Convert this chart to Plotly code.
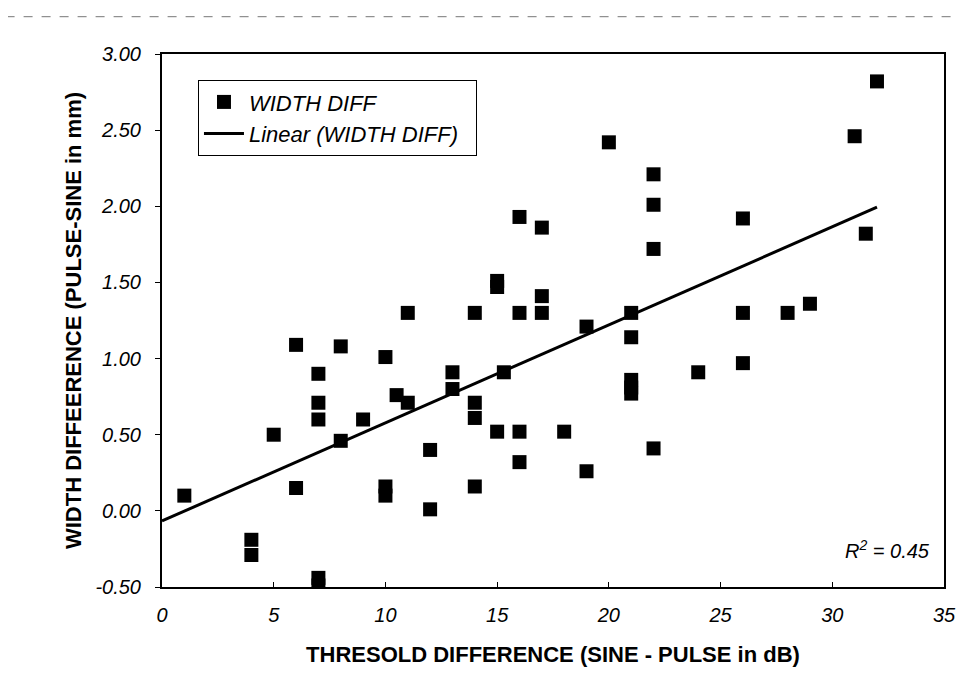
import numpy as np
import plotly.graph_objects as go

# Data
thr_diff = [1, 4, 4, 5, 6, 6, 7, 7, 7, 7, 7, 8, 8, 9, 10, 10, 10, 10.5, 11, 11,
            12, 12, 13, 13, 14, 14, 14, 14, 15, 15, 15, 15.3, 16, 16, 16, 16,
            17, 17, 17, 18, 19, 19, 20, 21, 21, 21, 21, 21, 22, 22, 22, 22,
            24, 26, 26, 26, 28, 29, 31, 31.5, 32]
width_diff = [0.10, -0.19, -0.29, 0.50, 1.09, 0.15, 0.90, 0.71, 0.60, -0.44, -0.49,
              1.08, 0.46, 0.60, 1.01, 0.16, 0.10, 0.76, 1.30, 0.71,
              0.40, 0.01, 0.91, 0.80, 1.30, 0.71, 0.61, 0.16, 1.51, 1.47, 0.52, 0.91,
              1.93, 1.30, 0.52, 0.32, 1.86, 1.41, 1.30, 0.52, 1.21, 0.26, 2.42,
              1.30, 1.14, 0.86, 0.81, 0.77, 2.21, 2.01, 1.72, 0.41,
              0.91, 1.92, 1.30, 0.97, 1.30, 1.36, 2.46, 1.82, 2.82]
y_ticks = [-0.5, 0.0, 0.5, 1.0, 1.5, 2.0, 2.5, 3.0]
x_ticks = [0, 5, 10, 15, 20, 25, 30, 35]
r2_label = "0.45"

slope, intercept = np.polyfit(thr_diff, width_diff, 1)
trend_x = [0, max(thr_diff)]
trend_y = [intercept + slope * v for v in trend_x]

FONT = "Arial, Liberation Sans, sans-serif"

fig = go.Figure()
fig.add_trace(go.Scatter(
    x=thr_diff, y=width_diff, mode="markers", name="WIDTH DIFF",
    marker=dict(symbol="square", size=14, color="black"),
))
fig.add_trace(go.Scatter(
    x=trend_x, y=trend_y, mode="lines", name="Linear (WIDTH DIFF)&nbsp;&nbsp;",
    line=dict(color="black", width=3),
))

fig.add_annotation(
    x=0.985, y=0.07, xref="paper", yref="paper", xanchor="right", yanchor="middle",
    text="<i>R<sup>2</sup> = " + r2_label + "</i>", showarrow=False,
    font=dict(family=FONT, size=20, color="black"),
)

fig.add_shape(type="line", xref="paper", yref="paper", x0=-0.2, x1=1.05,
              y0=1.07, y1=1.07, line=dict(color="#777", width=1, dash="dash"))

fig.update_layout(
    width=967, height=695,
    paper_bgcolor="white", plot_bgcolor="white",
    margin=dict(l=154, r=31, t=46, b=116),
    font=dict(family=FONT, color="black"),
    showlegend=True,
    legend=dict(
        x=0.046, y=0.951, xanchor="left", yanchor="top",
        bgcolor="white", bordercolor="black", borderwidth=1,
        font=dict(family=FONT, size=22, color="black", style="italic"),
        itemwidth=40, tracegroupgap=0,
    ),
    xaxis=dict(
        range=[0, 35], tickvals=x_ticks, ticktext=["<i>%d</i>" % v for v in x_ticks],
        showgrid=False, zeroline=False, showline=True, linecolor="black",
        linewidth=2, mirror=True, ticks="inside", ticklen=5, tickcolor="black",
        ticklabelstandoff=9,
        tickfont=dict(family=FONT, size=20, style="italic"),
        title=dict(text="<b>THRESOLD DIFFERENCE (SINE - PULSE in dB)</b>",
                   font=dict(family=FONT, size=22), standoff=22),
    ),
    yaxis=dict(
        range=[-0.5, 3.0], tickvals=y_ticks,
        ticktext=["<i>%.2f</i>" % v for v in y_ticks],
        showgrid=False, zeroline=False, showline=True, linecolor="black",
        linewidth=2, mirror=True, ticks="outside", ticklen=5, tickcolor="black",
        ticklabelstandoff=10,
        tickfont=dict(family=FONT, size=20, style="italic"),
        title=dict(text="<b>WIDTH DIFFEERENCE (PULSE-SINE in mm)</b>",
                   font=dict(family=FONT, size=22), standoff=8),
    ),
)

fig.write_html("out.html")
